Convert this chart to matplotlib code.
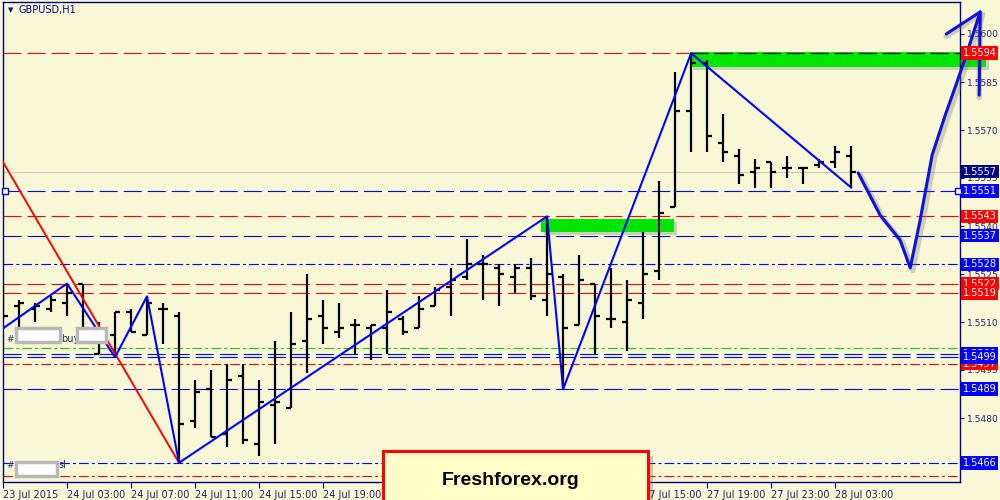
import matplotlib.pyplot as plt
from matplotlib.patches import Rectangle
from matplotlib.transforms import blended_transform_factory

plt.rcParams['lines.scale_dashes'] = False

# hourly GBPUSD bars, 23 Jul 2015 23:00 .. 28 Jul 2015 05:00
opens = [1.5517, 1.5515, 1.5514, 1.5514, 1.5516, 1.5522, 1.5500, 1.5506, 1.5513, 1.5506,
         1.5514, 1.5512, 1.5479, 1.5489, 1.5475, 1.5493, 1.5472, 1.5484, 1.5483, 1.5504,
         1.5512, 1.5507, 1.5509, 1.5508, 1.5508, 1.5511, 1.5508, 1.5515, 1.5521, 1.5524,
         1.5528, 1.5527, 1.5524, 1.5527, 1.5517, 1.5524, 1.5509, 1.5522, 1.5511, 1.5510,
         1.5516, 1.5526, 1.5546, 1.5576, 1.5591, 1.5566, 1.5562, 1.5557, 1.5560, 1.5558,
         1.5558, 1.5559, 1.5560, 1.5562]
highs = [1.5522, 1.5517, 1.5516, 1.5518, 1.5522, 1.5522, 1.5510, 1.5513, 1.5514, 1.5518,
         1.5516, 1.5513, 1.5492, 1.5495, 1.5497, 1.5497, 1.5492, 1.5504, 1.5513, 1.5525,
         1.5517, 1.5516, 1.5511, 1.5509, 1.5520, 1.5512, 1.5518, 1.5521, 1.5527, 1.5536,
         1.5531, 1.5528, 1.5528, 1.5530, 1.5543, 1.5525, 1.5531, 1.5522, 1.5527, 1.5523,
         1.5538, 1.5554, 1.5588, 1.5594, 1.5592, 1.5575, 1.5564, 1.5561, 1.5560, 1.5562,
         1.5558, 1.5561, 1.5565, 1.5565]
lows = [1.5511, 1.5506, 1.5510, 1.5513, 1.5512, 1.5507, 1.5500, 1.5499, 1.5507, 1.5506,
        1.5503, 1.5466, 1.5477, 1.5474, 1.5471, 1.5472, 1.5468, 1.5472, 1.5483, 1.5494,
        1.5503, 1.5505, 1.5500, 1.5498, 1.5500, 1.5506, 1.5508, 1.5515, 1.5512, 1.5523,
        1.5517, 1.5515, 1.5519, 1.5517, 1.5512, 1.5489, 1.5509, 1.5500, 1.5508, 1.5501,
        1.5511, 1.5523, 1.5546, 1.5563, 1.5563, 1.5560, 1.5553, 1.5552, 1.5552, 1.5555,
        1.5553, 1.5558, 1.5558, 1.5552]
closes = [1.5512, 1.5516, 1.5515, 1.5517, 1.5519, 1.5508, 1.5507, 1.5513, 1.5507, 1.5516,
          1.5514, 1.5478, 1.5488, 1.5474, 1.5492, 1.5473, 1.5485, 1.5485, 1.5503, 1.5511,
          1.5508, 1.5508, 1.5509, 1.5509, 1.5513, 1.5507, 1.5514, 1.5520, 1.5523, 1.5528,
          1.5528, 1.5525, 1.5527, 1.5518, 1.5525, 1.5508, 1.5523, 1.5512, 1.5511, 1.5517,
          1.5525, 1.5544, 1.5576, 1.5591, 1.5568, 1.5563, 1.5556, 1.5558, 1.5557, 1.5558,
          1.5558, 1.5560, 1.5563, 1.5557]

x_ticks = [0, 4, 8, 12, 16, 20, 24, 28, 32, 36, 40, 44, 48, 52]
x_labels = ['23 Jul 2015', '24 Jul 03:00', '24 Jul 07:00', '24 Jul 11:00', '24 Jul 15:00',
            '24 Jul 19:00', '24 Jul 23:00', '27 Jul 03:00', '27 Jul 07:00', '27 Jul 11:00',
            '27 Jul 15:00', '27 Jul 19:00', '27 Jul 23:00', '28 Jul 03:00']
y_ticks = [1.5465, 1.5480, 1.5495, 1.5510, 1.5525, 1.5540, 1.5555, 1.5570, 1.5585, 1.5600]

# horizontal levels
level_prices = [1.5594, 1.5557, 1.5551, 1.5543, 1.5537, 1.5528, 1.5522, 1.5519,
                1.5502, 1.5500, 1.5499, 1.5497, 1.5489, 1.5466, 1.5462]
level_colors = ['red', '#c8c8c8', 'blue', 'red', 'blue', 'blue', 'red', 'red',
                '#22c022', 'blue', 'blue', 'red', 'blue', 'blue', 'red']
level_styles = ['dash', 'solid', 'dash', 'dash', 'dash', 'dashdot', 'dash', 'dash',
                'dashdot', 'dash', 'dash', 'dashdot', 'dash', 'dashdot', 'dashdot']

# price boxes on the right scale
box_prices = [1.5594, 1.5557, 1.5551, 1.5543, 1.5537, 1.5528, 1.5522, 1.5519,
              1.5497, 1.5500, 1.5499, 1.5489, 1.5466]
box_colors = ['red', '#000080', 'blue', 'red', 'blue', 'blue', 'red', 'red',
              'red', 'blue', 'blue', 'blue', 'blue']

# zigzag and red trend line
zz_x = [0, 4, 7, 9, 11, 34, 35, 43, 53]
zz_y = [1.5508, 1.5522, 1.5499, 1.5518, 1.5466, 1.5543, 1.5489, 1.5594, 1.5552]
red_x = [0, 11]
red_y = [1.5560, 1.5466]

# green zones (x from, x to, price low, price high)
zone_x0 = [42.9, 33.6]
zone_x1 = [61.4, 41.9]
zone_lo = [1.55898, 1.55380]
zone_hi = [1.55945, 1.55422]

# hand drawn forecast
fc_x = [53.44, 54.81, 56.06, 56.69, 57.31, 58.06, 58.88, 59.5, 60.19, 61.06]
fc_y = [1.55566, 1.55434, 1.55356, 1.55269, 1.55419, 1.55622, 1.55747, 1.55834, 1.55934, 1.56069]
arrow_x = [58.94, 61.06, 61.0]
arrow_y = [1.5600, 1.56069, 1.55809]

bg = '#f8f8d6'
navy = '#000080'

fig = plt.figure(figsize=(10, 5), dpi=100, facecolor=bg)
ax = fig.add_axes([0.0025, 0.036, 0.9575, 0.96], facecolor=bg)
ax.set_xlim(-0.03, 59.8)
ax.set_ylim(1.5460, 1.5610)

dash_map = {'dash': (0, (13, 4.3)), 'dashdot': (0, (7, 2.2, 2.2, 2.2)), 'solid': '-'}
for p, c, s in zip(level_prices, level_colors, level_styles):
    ax.axhline(p, color=c, lw=0.8, linestyle=dash_map[s], zorder=1)

ax.plot([0.12, 59.68], [1.5551, 1.5551], 's', ms=4, mfc='white', mec='blue', zorder=3, clip_on=False)

# green zones with shadow
for x0, x1, lo, hi in zip(zone_x0, zone_x1, zone_lo, zone_hi):
    ax.add_patch(Rectangle((x0 + 0.2, lo - 0.00009), x1 - x0, hi - lo, fc='#808070',
                           ec='none', alpha=0.35, zorder=2, clip_on=False))
    ax.add_patch(Rectangle((x0, lo), x1 - x0, hi - lo, fc='#00e600', ec='none',
                           zorder=2, clip_on=False))
ax.plot([zone_x0[0], 59.8], [1.5594, 1.5594], color='black', lw=0.9,
        linestyle=(0, (13, 4.3)), zorder=3)

# OHLC bars
idx = list(range(len(opens)))
ax.vlines(idx, lows, highs, color='black', lw=1.6, zorder=4)
ax.hlines(opens, [i - 0.32 for i in idx], idx, color='black', lw=1.6, zorder=4)
ax.hlines(closes, idx, [i + 0.32 for i in idx], color='black', lw=1.6, zorder=4)

ax.plot(red_x, red_y, color='red', lw=1.4, zorder=5)
ax.plot(zz_x, zz_y, color='blue', lw=1.5, zorder=5)

# forecast with soft shadow
off = 0.00008
ax.plot([x + 0.15 for x in fc_x], [y - off for y in fc_y], color='#707060', lw=4,
        alpha=0.3, zorder=6, clip_on=False, solid_capstyle='round')
ax.plot(arrow_x, [y - off for y in arrow_y], color='#707060', lw=4, alpha=0.3,
        zorder=6, clip_on=False, solid_capstyle='round')
ax.plot(fc_x, fc_y, color='#1010e0', lw=2.2, zorder=7, clip_on=False, solid_capstyle='round')
ax.plot(arrow_x, arrow_y, color='#1010e0', lw=2.2, zorder=7, clip_on=False,
        solid_capstyle='round', solid_joinstyle='round')

# axes look
for side in ['left', 'right', 'bottom', 'top']:
    ax.spines[side].set_color(navy)
    ax.spines[side].set_linewidth(1)
ax.yaxis.tick_right()
ax.set_yticks(y_ticks, [f'{v:.4f}' for v in y_ticks])
ax.set_xticks(x_ticks, x_labels, ha='left')
ax.tick_params(axis='y', direction='out', length=3, color=navy, labelsize=6.6,
               labelcolor='#20206a', pad=2)
ax.tick_params(axis='x', direction='out', length=4, color=navy, labelsize=7,
               labelcolor='#20206a', pad=2)

trans = blended_transform_factory(ax.transAxes, ax.transData)
for p, c in zip(box_prices, box_colors):
    ax.text(1.003, p, f'{p:.4f}', transform=trans, color='white', fontsize=7,
            va='center', ha='left', zorder=20, clip_on=False,
            bbox=dict(boxstyle='square,pad=0.18', fc=c, ec='none'))

# top-left title
ax.text(0.006, 0.983, '\u25bc', transform=ax.transAxes, fontsize=5, color=navy, va='center')
ax.text(0.017, 0.983, 'GBPUSD,H1', transform=ax.transAxes, fontsize=7, color=navy, va='center')

# order labels on the left
def white_box(x0, y0, w, h):
    ax.add_patch(Rectangle((x0, y0), w, h, transform=ax.transAxes, fc='white',
                           ec='#b8b8b8', lw=2.5, zorder=9, clip_on=False))

ax.text(0.004, 0.2979, '#', transform=ax.transAxes, fontsize=6.5, color='#303070', va='center', zorder=8)
white_box(0.0141, 0.2917, 0.046, 0.0292)
ax.text(0.0615, 0.2979, 'buy', transform=ax.transAxes, fontsize=7, color='#303070', va='center', zorder=8)
white_box(0.0778, 0.2917, 0.0303, 0.0292)
ax.text(0.004, 0.0354, '#', transform=ax.transAxes, fontsize=6.5, color='#303070', va='center', zorder=8)
white_box(0.0141, 0.0125, 0.0428, 0.0292)
ax.text(0.0585, 0.0354, 'sl', transform=ax.transAxes, fontsize=7, color='#303070', va='center', zorder=8)

# watermark box
ax.add_patch(Rectangle((0.4025, -0.06), 0.2768, 0.1146, transform=ax.transAxes,
                       fc='#707060', ec='none', alpha=0.35, zorder=29, clip_on=False))
ax.add_patch(Rectangle((0.3974, -0.05), 0.2768, 0.1146, transform=ax.transAxes,
                       fc='#ffffc8', ec='red', lw=2.2, zorder=30, clip_on=False))
ax.text(0.5305, 0.004, 'Freshforex.org', transform=ax.transAxes, fontsize=14,
        fontweight='bold', family='Liberation Sans', color='black', ha='center',
        va='center', zorder=31, clip_on=False)

fig.savefig('out.png', dpi=100, facecolor=bg)
